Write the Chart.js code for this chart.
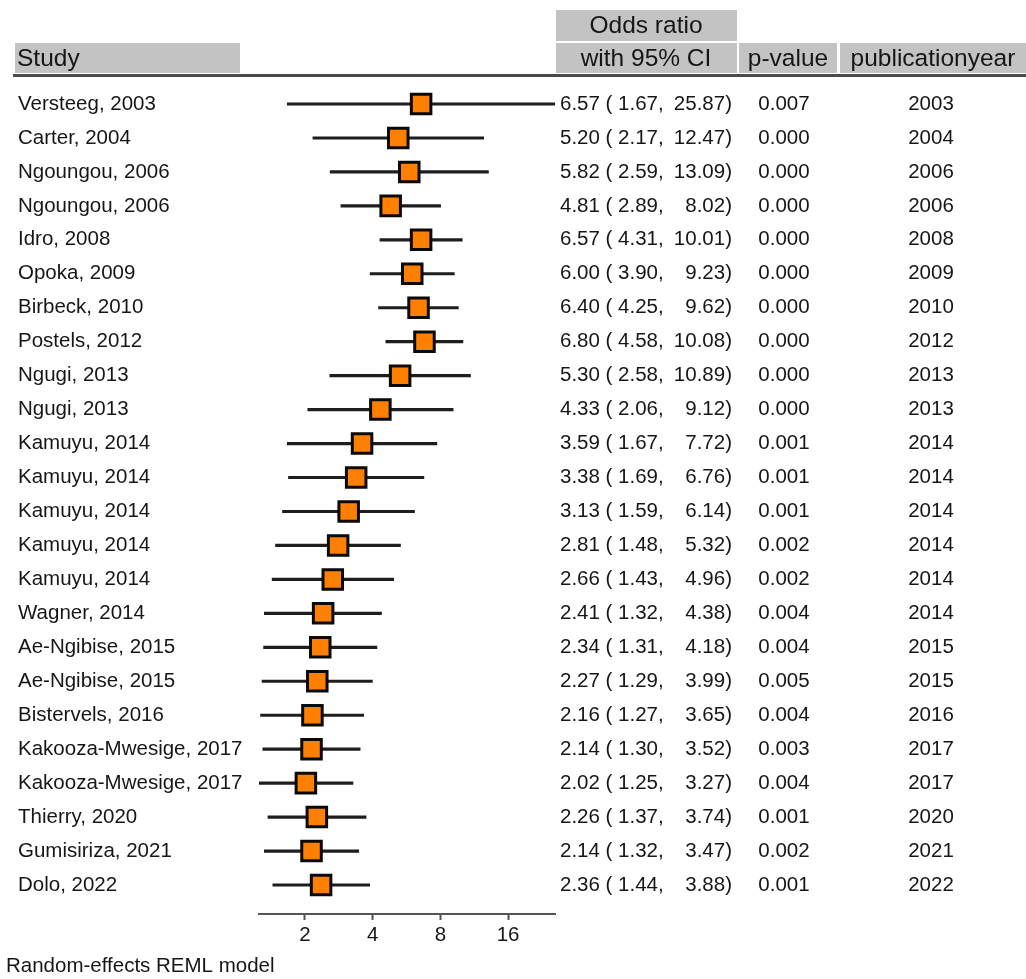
<!DOCTYPE html>
<html lang="en">
<head>
<meta charset="utf-8">
<title>Forest plot - odds ratios</title>
<script src="https://cdn.jsdelivr.net/npm/chart.js@4.4.1/dist/chart.umd.min.js"></script>
<style>
    html, body { margin: 0; padding: 0; background: #fff; }
    #wrap { position: relative; width: 1026px; height: 979px; }
</style>
</head>
<body>
<div id="wrap"><canvas id="forestChart"></canvas></div>
<script>
/* eslint-env browser */
const studies = [
    'Versteeg, 2003', 'Carter, 2004', 'Ngoungou, 2006', 'Ngoungou, 2006', 'Idro, 2008',
    'Opoka, 2009', 'Birbeck, 2010', 'Postels, 2012', 'Ngugi, 2013', 'Ngugi, 2013',
    'Kamuyu, 2014', 'Kamuyu, 2014', 'Kamuyu, 2014', 'Kamuyu, 2014', 'Kamuyu, 2014',
    'Wagner, 2014', 'Ae-Ngibise, 2015', 'Ae-Ngibise, 2015', 'Bistervels, 2016',
    'Kakooza-Mwesige, 2017', 'Kakooza-Mwesige, 2017', 'Thierry, 2020', 'Gumisiriza, 2021', 'Dolo, 2022'
];
const oddsRatios = [6.57, 5.20, 5.82, 4.81, 6.57, 6.00, 6.40, 6.80, 5.30, 4.33, 3.59, 3.38, 3.13, 2.81, 2.66, 2.41, 2.34, 2.27, 2.16, 2.14, 2.02, 2.26, 2.14, 2.36];
const lowerCI = [1.67, 2.17, 2.59, 2.89, 4.31, 3.90, 4.25, 4.58, 2.58, 2.06, 1.67, 1.69, 1.59, 1.48, 1.43, 1.32, 1.31, 1.29, 1.27, 1.30, 1.25, 1.37, 1.32, 1.44];
const upperCI = [25.87, 12.47, 13.09, 8.02, 10.01, 9.23, 9.62, 10.08, 10.89, 9.12, 7.72, 6.76, 6.14, 5.32, 4.96, 4.38, 4.18, 3.99, 3.65, 3.52, 3.27, 3.74, 3.47, 3.88];
const pValues = ['0.007', '0.000', '0.000', '0.000', '0.000', '0.000', '0.000', '0.000', '0.000', '0.000',
    '0.001', '0.001', '0.001', '0.002', '0.002', '0.004', '0.004', '0.005', '0.004', '0.003', '0.004', '0.001', '0.002', '0.001'];
const pubYears = [2003, 2004, 2006, 2006, 2008, 2009, 2010, 2012, 2013, 2013, 2014, 2014, 2014, 2014, 2014, 2014, 2015, 2015, 2016, 2017, 2017, 2020, 2021, 2022];
const axisTicks = [2, 4, 8, 16];
const modelNote = 'Random-effects REML model';

(() => {
    'use strict';

    const FONT = '"Liberation Sans", Arial, Helvetica, sans-serif';
    const TEXT = '#161616';
    const HEADER_BG = '#c3c3c3';

    function fmt(v)
    {
        return v.toFixed(2);
    }

    // header boxes, column texts and footnote, placed on the rows of the y scale
    const tablePlugin = {
        id: 'forestTable',
        beforeDraw(chart) {
            const ctx = chart.ctx;
            ctx.save();
            ctx.fillStyle = '#fff';
            ctx.fillRect(0, 0, chart.width, chart.height);
            ctx.fillStyle = HEADER_BG;
            ctx.fillRect(15, 43, 225, 30);
            ctx.fillRect(556, 10, 181, 31);
            ctx.fillRect(556, 43, 181, 30);
            ctx.fillRect(739, 43, 98, 30);
            ctx.fillRect(840, 43, 186, 30);
            ctx.strokeStyle = '#4a4a4a';
            ctx.lineWidth = 3;
            ctx.beginPath();
            ctx.moveTo(13, 75.5);
            ctx.lineTo(1026, 75.5);
            ctx.stroke();

            ctx.fillStyle = TEXT;
            ctx.textBaseline = 'middle';
            ctx.font = `24.5px ${FONT}`;
            ctx.textAlign = 'left';
            ctx.fillText('Study', 17, 59);
            ctx.textAlign = 'center';
            ctx.fillText('Odds ratio', 646, 26);
            ctx.fillText('with 95% CI', 646, 59);
            ctx.fillText('p-value', 788, 59);
            ctx.fillText('publicationyear', 933, 59);
            ctx.restore();
        },
        afterDraw(chart) {
            const ctx = chart.ctx;
            const yScale = chart.scales.y;
            ctx.save();
            ctx.fillStyle = TEXT;
            ctx.textBaseline = 'middle';
            ctx.font = `20.5px ${FONT}`;
            studies.forEach((name, i) => {
                const y = yScale.getPixelForValue(i);
                ctx.textAlign = 'left';
                ctx.fillText(name, 18, y);
                ctx.fillText(`${fmt(oddsRatios[i])} ( ${fmt(lowerCI[i])},`, 560, y);
                ctx.textAlign = 'right';
                ctx.fillText(`${fmt(upperCI[i])})`, 732, y);
                ctx.textAlign = 'center';
                ctx.fillText(pValues[i], 784, y);
                ctx.fillText(String(pubYears[i]), 931, y);
            });
            ctx.textAlign = 'left';
            ctx.fillText(modelNote, 6, 966);
            ctx.restore();
        }
    };

    document.addEventListener('DOMContentLoaded', function () {
        const canvas = document.getElementById('forestChart');
        const rows = studies.map((_, i) => i);

        new Chart(canvas.getContext('2d'), {
            type: 'scatter',
            data: {
                datasets: [
                    {
                        type: 'bar',
                        label: '95% CI',
                        indexAxis: 'y',
                        data: rows.map(i => ({ y: i, x: [lowerCI[i], upperCI[i]] })),
                        backgroundColor: '#1e1e1e',
                        borderWidth: 0,
                        barThickness: 2.5,
                        order: 2
                    },
                    {
                        type: 'scatter',
                        label: 'Odds ratio',
                        data: rows.map(i => ({ x: oddsRatios[i], y: i })),
                        pointStyle: 'rect',
                        pointRadius: 13.8,
                        pointHoverRadius: 13.8,
                        backgroundColor: '#ff8000',
                        borderColor: '#0a0a0a',
                        borderWidth: 3,
                        order: 1
                    }
                ]
            },
            options: {
                responsive: true,
                maintainAspectRatio: false,
                animation: false,
                events: [],
                layout: { padding: { left: 259, right: 471, top: 80, bottom: 25 } },
                plugins: {
                    legend: { display: false },
                    tooltip: { enabled: false }
                },
                scales: {
                    x: {
                        type: 'logarithmic',
                        position: 'bottom',
                        min: 1.25,
                        max: 25.87,
                        offset: false,
                        afterBuildTicks: axis => { axis.ticks = axisTicks.map(v => ({ value: v })); },
                        afterFit: axis => { axis.height = 40; },
                        border: { display: true, color: '#555', width: 2 },
                        grid: { display: true, drawOnChartArea: false, drawTicks: true, tickLength: 6, tickColor: '#555', tickWidth: 2 },
                        ticks: { color: TEXT, padding: 3, autoSkip: false, maxRotation: 0, font: { family: FONT, size: 20.5 }, callback: v => String(v) }
                    },
                    y: {
                        type: 'linear',
                        display: false,
                        reverse: true,
                        offset: false,
                        min: -0.707,
                        max: 23.854
                    }
                }
            },
            plugins: [tablePlugin]
        });
    });
})();
</script>
</body>
</html>
